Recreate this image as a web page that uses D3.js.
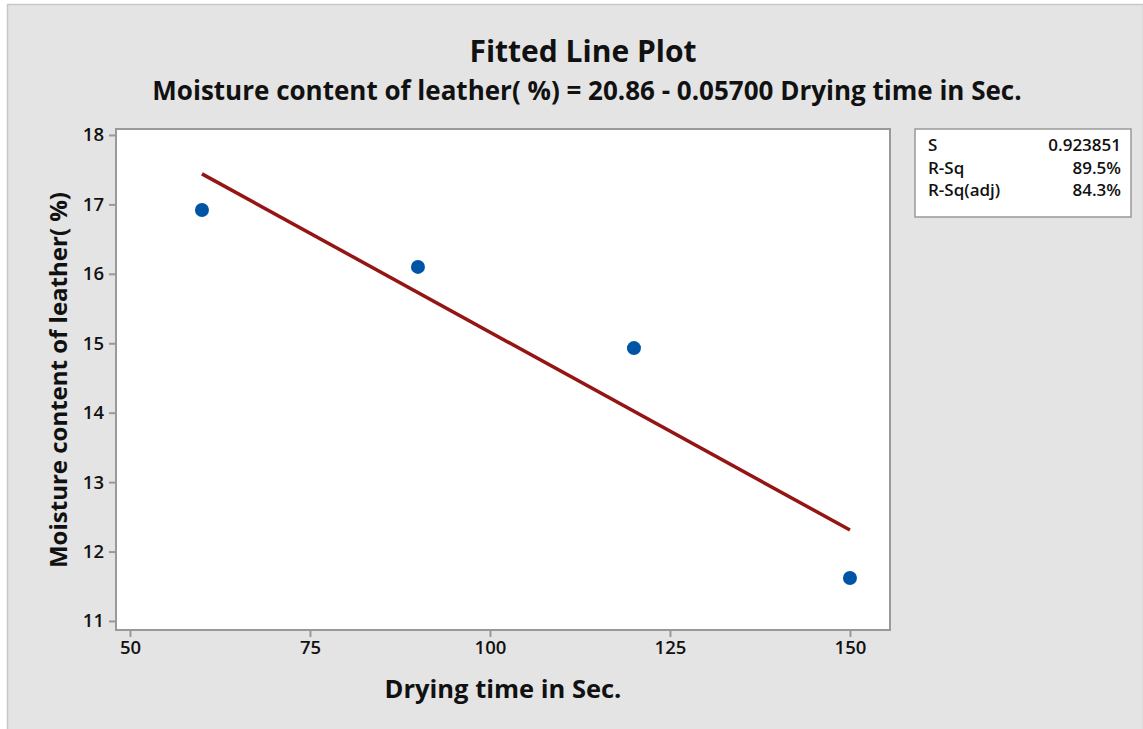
<!DOCTYPE html>
<html>
<head>
<meta charset="utf-8">
<script src="https://cdn.jsdelivr.net/npm/d3@7"></script>
<style>
  body { margin: 0; background: #fff; }
  text { font-family: "Open Sans", "Noto Sans", sans-serif; fill: #111; }
</style>
</head>
<body>
<div id="chart"></div>
<script>
var width = 1143, height = 729;

// observed points
var dryTime = [60, 90, 120, 150];
var moisture = [16.92, 16.1, 14.93, 11.62];

// fitted line ends (20.86 - 0.057 x)
var fitX = [60, 150];
var fitY = [17.44, 12.31];

var xTicks = [50, 75, 100, 125, 150];
var yTicks = [11, 12, 13, 14, 15, 16, 17, 18];

var statNames = ["S", "R-Sq", "R-Sq(adj)"];
var statValues = ["0.923851", "89.5%", "84.3%"];

var plotL = 116, plotT = 129, plotR = 890, plotB = 630;

var svg = d3.select("#chart").append("svg")
    .attr("width", width)
    .attr("height", height);

// background panel
svg.append("rect")
    .attr("x", 7.5).attr("y", 4.5)
    .attr("width", width - 7).attr("height", height)
    .attr("fill", "#e4e4e4")
    .attr("stroke", "#c8c8c8")
    .attr("stroke-width", 1.5);

var x = d3.scaleLinear().domain([48.06, 155.56]).range([plotL, plotR]);
var y = d3.scaleLinear().domain([10.87, 18.086]).range([plotB, plotT]);

svg.append("rect")
    .attr("x", plotL).attr("y", plotT)
    .attr("width", plotR - plotL).attr("height", plotB - plotT)
    .attr("fill", "#fff")
    .attr("stroke", "#999")
    .attr("stroke-width", 2);

var xAxis = svg.append("g")
    .attr("transform", "translate(0," + (plotB + 1) + ")")
    .call(d3.axisBottom(x).tickValues(xTicks).tickSize(6).tickPadding(4));
var yAxis = svg.append("g")
    .attr("transform", "translate(" + (plotL - 1) + ",0)")
    .call(d3.axisLeft(y).tickValues(yTicks).tickSize(6).tickPadding(5));

[xAxis, yAxis].forEach(function (g) {
    g.select(".domain").remove();
    g.selectAll(".tick line").attr("stroke", "#999").attr("stroke-width", 2);
    g.selectAll(".tick text")
        .attr("font-size", 18.5)
        .attr("font-weight", 600)
        .attr("fill", "#111")
        .attr("font-family", "'Open Sans', sans-serif");
});

// fitted line
svg.append("path")
    .datum(d3.zip(fitX, fitY))
    .attr("d", d3.line().x(function (d) { return x(d[0]); }).y(function (d) { return y(d[1]); }))
    .attr("fill", "none")
    .attr("stroke", "#951414")
    .attr("stroke-width", 3.5);

// points
svg.selectAll("circle.pt")
    .data(d3.zip(dryTime, moisture))
    .enter().append("circle")
    .attr("class", "pt")
    .attr("cx", function (d) { return x(d[0]); })
    .attr("cy", function (d) { return y(d[1]); })
    .attr("r", 7)
    .attr("fill", "#0054a6");

// titles
svg.append("text")
    .attr("x", 583).attr("y", 62)
    .attr("text-anchor", "middle")
    .attr("font-size", 30).attr("font-weight", 700)
    .text("Fitted Line Plot");
svg.append("text")
    .attr("x", 587).attr("y", 100)
    .attr("text-anchor", "middle")
    .attr("font-size", 26).attr("font-weight", 700)
    .text("Moisture content of leather( %) = 20.86 - 0.05700 Drying time in Sec.");

svg.append("text")
    .attr("x", 503).attr("y", 698)
    .attr("text-anchor", "middle")
    .attr("font-size", 25.5).attr("font-weight", 700)
    .text("Drying time in Sec.");
svg.append("text")
    .attr("transform", "translate(67,380) rotate(-90)")
    .attr("text-anchor", "middle")
    .attr("font-size", 24).attr("font-weight", 700)
    .text("Moisture content of leather( %)");

// stats box
var box = svg.append("g");
box.append("rect")
    .attr("x", 915).attr("y", 129)
    .attr("width", 216).attr("height", 88)
    .attr("fill", "#fff")
    .attr("stroke", "#999")
    .attr("stroke-width", 1.5);
statNames.forEach(function (s, i) {
    box.append("text")
        .attr("x", 928).attr("y", 151 + i * 22.5)
        .attr("font-size", 17).attr("font-weight", 600)
        .text(s);
    box.append("text")
        .attr("x", 1121).attr("y", 151 + i * 22.5)
        .attr("text-anchor", "end")
        .attr("font-size", 17).attr("font-weight", 600)
        .text(statValues[i]);
});
</script>
</body>
</html>
